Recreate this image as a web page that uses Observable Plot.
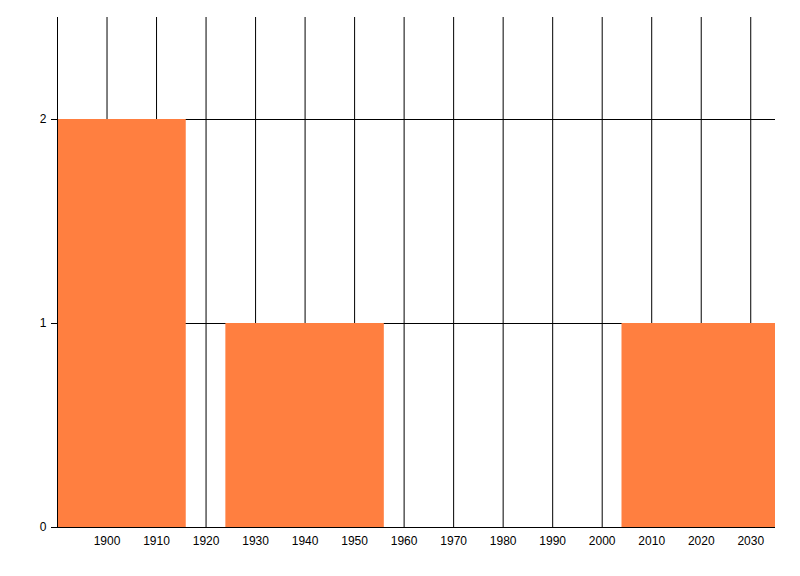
<!DOCTYPE html>
<html>
<head>
<meta charset="utf-8">
<script src="https://cdn.jsdelivr.net/npm/d3@7"></script>
<script src="https://cdn.jsdelivr.net/npm/@observablehq/plot@0.6"></script>
<style>
  body { margin: 0; background: #fff; }
</style>
</head>
<body>
<div id="chart"></div>
<script>
// centros de cada barra (años) y conteos
const years = [1900, 1940, 1980, 2020];
const counts = [2, 1, 0, 1];
const xTicks = [1900, 1910, 1920, 1930, 1940, 1950, 1960, 1970, 1980, 1990, 2000, 2010, 2020, 2030];
const yTicks = [0, 1, 2];

const halfWidth = 16;
const data = years.map((y, i) => ({year: y, count: counts[i]}));

let chart = Plot.plot({
  width: 800,
  height: 576,
  marginLeft: 57,
  marginRight: 25,
  marginTop: 17,
  marginBottom: 49,
  style: {fontFamily: "'Liberation Sans', Arial, sans-serif", fontSize: "12px", color: "black"},
  x: {domain: [1890, 2035]},
  y: {domain: [0, 2.5]},
  marks: [
    Plot.gridX(xTicks, {stroke: "black", strokeOpacity: 1, strokeWidth: 1}),
    Plot.gridY([1, 2], {stroke: "black", strokeOpacity: 1, strokeWidth: 1}),
    Plot.rectY(data, {
      x1: d => d.year - halfWidth,
      x2: d => d.year + halfWidth,
      y: "count",
      fill: "#ff7f40",
      clip: true
    }),
    Plot.ruleY([0], {stroke: "black"}),
    Plot.ruleX([1890], {stroke: "black"}),
    Plot.axisX(xTicks, {tickSize: 0, tickPadding: 9, tickFormat: d => String(d), label: null, fontSize: 12}),
    Plot.axisY(yTicks, {tickSize: 6, tickPadding: 5, tickFormat: d => String(d), label: null, fontSize: 12})
  ]
});

d3.select('#chart').append(() => chart);
</script>
</body>
</html>
